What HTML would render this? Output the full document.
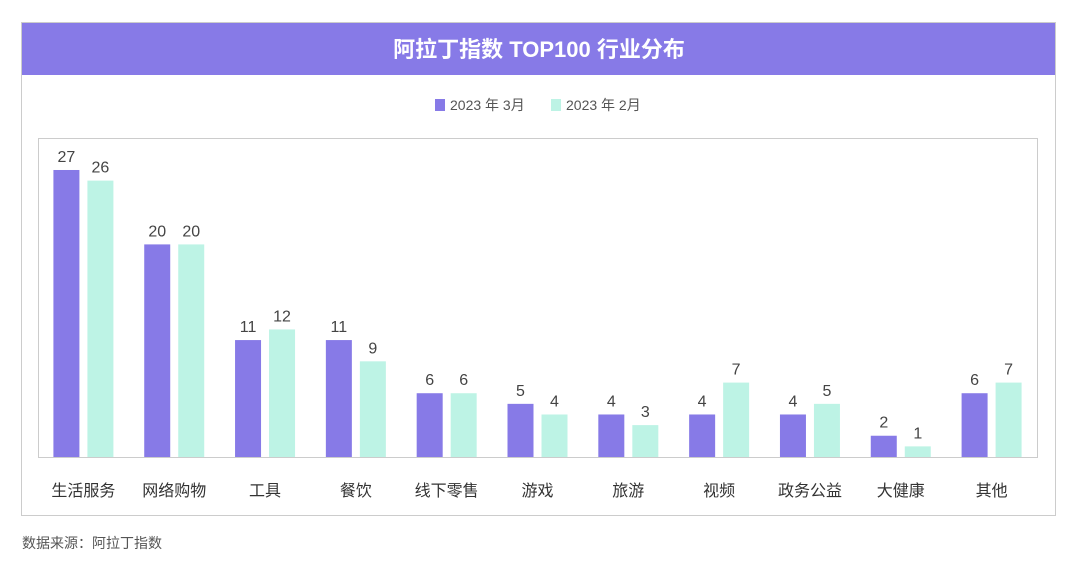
<!DOCTYPE html>
<html><head><meta charset="utf-8"><style>
body{margin:0;width:1080px;height:564px;background:#fff;font-family:"Liberation Sans","Noto Sans CJK SC",sans-serif;overflow:hidden}
</style></head><body>
<svg width="1080" height="564" xmlns="http://www.w3.org/2000/svg" style="font-family:'Liberation Sans','Noto Sans CJK SC',sans-serif">
<rect x="21.5" y="22.5" width="1034" height="493" fill="#fff" stroke="#ccc"/>
<rect x="22" y="23" width="1033" height="52" fill="#877AE7"/>
<text x="539" y="57" text-anchor="middle" fill="#fff" font-size="22" font-weight="bold">阿拉丁指数 TOP100 行业分布</text>
<g font-size="14" fill="#555">
<rect x="435" y="99" width="10" height="12" fill="#877AE7"/>
<text x="450" y="110">2023 年 3月</text>
<rect x="551" y="99" width="10" height="12" fill="#BDF3E5"/>
<text x="566" y="110">2023 年 2月</text>
</g>
<rect x="38.5" y="138.5" width="999" height="319" fill="none" stroke="#ccc"/>
<g id="bars"></g>
<text x="22" y="548" font-size="14" fill="#555">数据来源：阿拉丁指数</text>
</svg>
<script>
const categories=["生活服务","网络购物","工具","餐饮","线下零售","游戏","旅游","视频","政务公益","大健康","其他"];
const mar=[27,20,11,11,6,5,4,4,4,2,6];
const feb=[26,20,12,9,6,4,3,7,5,1,7];
const NS="http://www.w3.org/2000/svg";
const g=document.getElementById('bars');
const x0=38,step=999/11,base=457,ppu=10.63;
function y(v){return base-v*ppu;}
function add(tag,attrs,text){const e=document.createElementNS(NS,tag);for(const k in attrs)e.setAttribute(k,attrs[k]);if(text!==undefined)e.textContent=text;g.appendChild(e);return e;}
categories.forEach((c,i)=>{
  const cx=x0+step*(i+0.5);
  [[mar[i],'#877AE7',-30,'mar'],[feb[i],'#BDF3E5',4,'feb']].forEach(([v,col,off,s])=>{
    const r=add('rect',{x:cx+off,y:y(v),width:26,height:v*ppu,fill:col});
    
    
    const t=add('text',{x:cx+off+13,y:y(v)-8,'text-anchor':'middle','font-size':'16',fill:'#444'},String(v));
    
    
  });
  const l=add('text',{x:cx,y:496,'text-anchor':'middle','font-size':'16',fill:'#333'},c);
  
  
});
</script>
</body></html>
